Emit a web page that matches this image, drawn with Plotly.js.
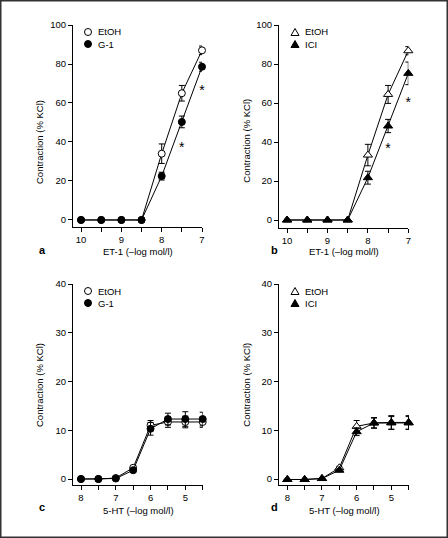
<!DOCTYPE html>
<html>
<head>
<meta charset="utf-8">
<script src="https://cdn.plot.ly/plotly-3.0.1.min.js"></script>
<style>html,body{margin:0;padding:0;background:#fff;}#chart{width:448px;height:538px;}</style>
</head>
<body>
<div id="chart"></div>
<script>
// ---- data ----
const etX = [10, 9.5, 9, 8.5, 8, 7.5, 7];
const etTickVals = [10, 9.5, 9, 8.5, 8, 7.5, 7];
const etTickText = ['10', '', '9', '', '8', '', '7'];
const htX = [8, 7.5, 7, 6.5, 6, 5.5, 5, 4.5];
const htTickVals = [8, 7.5, 7, 6.5, 6, 5.5, 5, 4.5];
const htTickText = ['8', '', '7', '', '6', '', '5', ''];

const aEtOH = [0, 0, 0, 0, 34, 65, 87];
const aEtOHErr = [0, 0, 0, 0, 5, 4, 2.2];
const aG1 = [0, 0, 0, 0, 22.5, 50.3, 78.6];
const aG1Err = [0, 0, 0, 0, 2, 3, 2.3];
const aStarX = [7.5, 7];
const aStarY = [36.8, 65.9];

const bEtOH = [0, 0, 0, 0, 33.3, 64.4, 86.8];
const bEtOHErr = [0, 0, 0, 0, 5.5, 4.6, 2.1];
const bICI = [0, 0, 0, 0, 21.7, 48.2, 75.2];
const bICIErr = [0, 0, 0, 0, 3.3, 3.4, 5.8];
const bStarX = [7.5, 7];
const bStarY = [36.0, 59.9];

const cEtOH = [0, 0, 0.2, 2.3, 11.0, 11.7, 11.7, 11.7];
const cEtOHErr = [0, 0, 0, 0.3, 1.0, 1.1, 1.2, 1.1];
const cG1 = [0, 0, 0.1, 1.8, 10.3, 12.3, 12.3, 12.3];
const cG1Err = [0, 0, 0, 0.3, 1.3, 1.2, 1.5, 1.4];

const dEtOH = [-0.1, -0.1, 0.1, 2.3, 10.8, 11.5, 11.5, 11.5];
const dEtOHErr = [0, 0, 0, 0.3, 1.2, 1.0, 1.3, 1.3];
const dICI = [-0.1, -0.1, 0.1, 1.8, 9.7, 11.5, 11.6, 11.6];
const dICIErr = [0, 0, 0, 0.3, 0.8, 1.1, 1.4, 1.4];

const yTitle = 'Contraction (% KCl)';
const etTitle = 'ET-1 (–log mol/l)';
const htTitle = '5-HT (–log mol/l)';

// ---- layout helpers ----
const W = 448, H = 538;
const fx = p => p / W;
const fy = p => 1 - p / H;
const FONT = 'Liberation Sans, Arial, sans-serif';
const FS = 9.5;

function series(x, y, err, symbol, fill, xa, ya) {
  return {
    type: 'scatter', mode: 'lines+markers', x: x, y: y,
    xaxis: xa, yaxis: ya, showlegend: false, cliponaxis: false,
    line: {color: '#000', width: 1},
    marker: {symbol: symbol, size: symbol.indexOf('triangle') === 0 ? 8 : 7, color: fill, line: {color: '#000', width: 1}},
    error_y: {type: 'data', array: err, visible: true, color: '#000', thickness: 1, width: 3}
  };
}
function stars(x, y, xa, ya) {
  return {type: 'scatter', mode: 'text', x: x, y: y, text: x.map(() => '*'),
    textfont: {family: FONT, size: 14, color: '#000'}, textposition: 'middle center',
    xaxis: xa, yaxis: ya, showlegend: false, hoverinfo: 'skip', cliponaxis: false};
}

const data = [
  series(etX, aEtOH, aEtOHErr, 'circle', '#fff', 'x', 'y'),
  series(etX, aG1, aG1Err, 'circle', '#000', 'x', 'y'),
  stars(aStarX, aStarY, 'x', 'y'),
  series(etX, bEtOH, bEtOHErr, 'triangle-up', '#fff', 'x2', 'y2'),
  series(etX, bICI, bICIErr, 'triangle-up', '#000', 'x2', 'y2'),
  stars(bStarX, bStarY, 'x2', 'y2'),
  series(htX, cEtOH, cEtOHErr, 'circle', '#fff', 'x3', 'y3'),
  series(htX, cG1, cG1Err, 'circle', '#000', 'x3', 'y3'),
  series(htX, dEtOH, dEtOHErr, 'triangle-up', '#fff', 'x4', 'y4'),
  series(htX, dICI, dICIErr, 'triangle-up', '#000', 'x4', 'y4')
];

function xax(dom, range, vals, text, ya) {
  return {domain: [fx(dom[0]), fx(dom[1])], range: range, anchor: ya,
    tickmode: 'array', tickvals: vals, ticktext: text, ticks: 'outside', ticklen: 4,
    tickcolor: '#000', tickwidth: 1, showline: true, linecolor: '#000', linewidth: 1,
    showgrid: false, zeroline: false, tickfont: {family: FONT, size: FS, color: '#000'}};
}
function yax(dom, range, vals, xa) {
  return {domain: [fy(dom[1]), fy(dom[0])], range: range, anchor: xa,
    tickmode: 'array', tickvals: vals, ticks: 'outside', ticklen: 4,
    tickcolor: '#000', tickwidth: 1, showline: true, linecolor: '#000', linewidth: 1,
    showgrid: false, zeroline: false, tickfont: {family: FONT, size: FS, color: '#000'}};
}

const layout = {
  width: W, height: H, margin: {l: 0, r: 0, t: 0, b: 0},
  paper_bgcolor: '#fff', plot_bgcolor: 'rgba(0,0,0,0)', showlegend: false,
  font: {family: FONT, color: '#000'},
  xaxis: xax([73, 202], [10.2, 7], etTickVals, etTickText, 'y'),
  yaxis: yax([25, 227], [-3.6, 100], [0, 20, 40, 60, 80, 100], 'x'),
  xaxis2: xax([279, 408.3], [10.2, 7], etTickVals, etTickText, 'y2'),
  yaxis2: yax([25, 227.7], [-3.95, 100], [0, 20, 40, 60, 80, 100], 'x2'),
  xaxis3: xax([73, 202.7], [8.23, 4.5], htTickVals, htTickText, 'y3'),
  yaxis3: yax([284, 485], [-1.23, 40], [0, 10, 20, 30, 40], 'x3'),
  xaxis4: xax([279, 409], [8.24, 4.49], htTickVals, htTickText, 'y4'),
  yaxis4: yax([284, 485], [-1.23, 40], [0, 10, 20, 30, 40], 'x4'),
  annotations: [],
  shapes: []
};

function ann(text, x, y, opts) {
  layout.annotations.push(Object.assign({text: text, xref: 'paper', yref: 'paper',
    x: fx(x), y: fy(y), showarrow: false, xanchor: 'center', yanchor: 'middle',
    font: {family: FONT, size: FS, color: '#000'}}, opts || {}));
}
// axis titles
ann(yTitle, 39, 142, {textangle: -90});
ann(yTitle, 245.7, 141, {textangle: -90});
ann(yTitle, 39, 385, {textangle: -90});
ann(yTitle, 245.7, 385, {textangle: -90});
ann(etTitle, 138, 251);
ann(etTitle, 344, 251);
ann(htTitle, 138, 510.5);
ann(htTitle, 344, 510.5);
// panel letters
const bold = {font: {family: FONT, size: 11, color: '#000', weight: 'bold'}};
ann('<b>a</b>', 42.7, 250, bold);
ann('<b>b</b>', 274, 250, bold);
ann('<b>c</b>', 42, 507, bold);
ann('<b>d</b>', 274, 507, bold);

// legends
function legCircle(cx, cy, fill, label) {
  const r = 3.5;
  layout.shapes.push({type: 'circle', xref: 'paper', yref: 'paper',
    x0: fx(cx - r), x1: fx(cx + r), y0: fy(cy + r), y1: fy(cy - r),
    fillcolor: fill, line: {color: '#000', width: 1}});
  ann(label, cx + 8, cy, {xanchor: 'left'});
}
function legTri(cx, cy, fill, label) {
  const h = 7, w = 8;
  const p = 'M ' + fx(cx) + ' ' + fy(cy - h / 2) + ' L ' + fx(cx + w / 2) + ' ' + fy(cy + h / 2) +
    ' L ' + fx(cx - w / 2) + ' ' + fy(cy + h / 2) + ' Z';
  layout.shapes.push({type: 'path', xref: 'paper', yref: 'paper', path: p,
    fillcolor: fill, line: {color: '#000', width: 1}});
  ann(label, cx + 8, cy, {xanchor: 'left'});
}
legCircle(88, 32, '#fff', 'EtOH');
legCircle(88, 44, '#000', 'G-1');
legTri(295, 32, '#fff', 'EtOH');
legTri(295, 44, '#000', 'ICI');
legCircle(88, 291, '#fff', 'EtOH');
legCircle(88, 303, '#000', 'G-1');
legTri(295, 291, '#fff', 'EtOH');
legTri(295, 303, '#000', 'ICI');

// frame
layout.shapes.push({type: 'rect', xref: 'paper', yref: 'paper',
  x0: fx(0.75), x1: fx(447.25), y0: fy(537.25), y1: fy(0.75),
  line: {color: '#333', width: 1.5}, fillcolor: 'rgba(0,0,0,0)'});

Plotly.newPlot('chart', data, layout, {staticPlot: true, displayModeBar: false});
</script>
</body>
</html>
